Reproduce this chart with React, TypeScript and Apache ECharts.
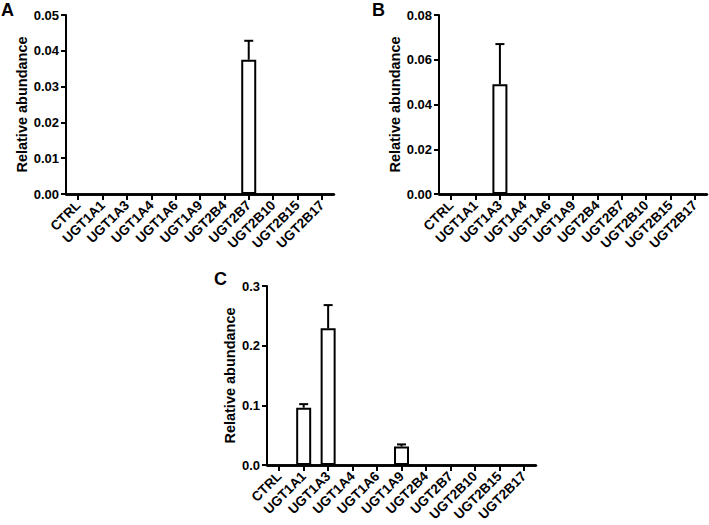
import React, { useEffect, useRef } from "react";
import * as echarts from "echarts";

const categories = ["CTRL", "UGT1A1", "UGT1A3", "UGT1A4", "UGT1A6", "UGT1A9", "UGT2B4", "UGT2B7", "UGT2B10", "UGT2B15", "UGT2B17"];

const meanA = [0, 0, 0, 0, 0, 0, 0, 0.0375, 0, 0, 0];
const errA = [0, 0, 0, 0, 0, 0, 0, 0.0053, 0, 0, 0];
const meanB = [0, 0, 0.049, 0, 0, 0, 0, 0, 0, 0, 0];
const errB = [0, 0, 0.018, 0, 0, 0, 0, 0, 0, 0, 0];
const meanC = [0, 0.096, 0.229, 0, 0, 0.031, 0, 0, 0, 0, 0];
const errC = [0, 0.006, 0.039, 0, 0, 0.0035, 0, 0, 0, 0, 0];

const yMaxA = 0.05, yStepA = 0.01;
const yMaxB = 0.08, yStepB = 0.02;
const yMaxC = 0.3, yStepC = 0.1;

const FONT = "'Liberation Sans', Arial, sans-serif";
const INK = "#000000";

export default function App() {
  const ref = useRef<HTMLDivElement>(null);
  useEffect(() => {
    document.body.style.margin = "0";
    if (!ref.current) return;
    const chart = echarts.init(ref.current, null, { renderer: "svg" });

    const grids = [
      { left: 66, top: 15, width: 268, height: 179 },
      { left: 439, top: 15, width: 268, height: 179 },
      { left: 267, top: 286, width: 269, height: 179 },
    ].map((g) => ({ ...g, containLabel: false }));
    const panels = [
      { mean: meanA, err: errA, max: yMaxA, step: yStepA, dec: 2, gap: 37 },
      { mean: meanB, err: errB, max: yMaxB, step: yStepB, dec: 2, gap: 37 },
      { mean: meanC, err: errC, max: yMaxC, step: yStepC, dec: 1, gap: 30 },
    ];

    const xAxis = panels.map((_, i) => ({
      type: "category",
      gridIndex: i,
      position: "bottom",
      data: categories,
      boundaryGap: true,
      axisLine: { show: true, onZero: false, lineStyle: { color: INK, width: 2.5 } },
      axisTick: { show: true, inside: false, alignWithLabel: true, length: 6, lineStyle: { color: INK, width: 2 } },
      axisLabel: {
        show: true,
        rotate: 45,
        interval: 0,
        margin: 9,
        color: "#000",
        fontFamily: FONT,
        fontWeight: "bold",
        fontSize: 13.5,
      },
    }));

    const yAxis = panels.map((p, i) => ({
      type: "value",
      gridIndex: i,
      min: 0,
      max: p.max,
      interval: p.step,
      name: "Relative abundance",
      nameLocation: "middle",
      nameGap: p.gap,
      nameTextStyle: { color: "#000", fontFamily: FONT, fontWeight: "bold", fontSize: 14.5 },
      axisLine: { show: true, lineStyle: { color: INK, width: 2 } },
      axisTick: { show: true, length: 5, lineStyle: { color: INK, width: 2 } },
      splitLine: { show: false },
      axisLabel: {
        margin: 7,
        color: "#000",
        fontFamily: FONT,
        fontWeight: "bold",
        fontSize: 13,
        formatter: (v: number) => v.toFixed(p.dec),
      },
    }));

    const series: any[] = [];
    panels.forEach((p, i) => {
      series.push({
        type: "bar",
        xAxisIndex: i,
        yAxisIndex: i,
        data: p.mean.map((m) => (m === 0 ? "-" : m)),
        barWidth: 15,
        itemStyle: { color: "#fff", borderColor: INK, borderWidth: 2 },
        markLine: {
          silent: true,
          symbol: ["none", "none"],
          label: { show: false },
          lineStyle: { color: INK, width: 2.5, type: "solid" },
          data: [{ yAxis: 0 }],
        },
      });
      series.push({
        type: "custom",
        xAxisIndex: i,
        yAxisIndex: i,
        data: p.mean.map((m, k) => [k, m, p.err[k]]),
        renderItem: (params: any, api: any) => {
          const idx = api.value(0);
          const m = api.value(1);
          const e = api.value(2);
          if (!e) return null;
          const base = api.coord([idx, m]);
          const top = api.coord([idx, m + e]);
          const half = 4.5;
          const style = { stroke: INK, lineWidth: 2 };
          return {
            type: "group",
            children: [
              { type: "line", shape: { x1: base[0], y1: base[1], x2: top[0], y2: top[1] }, style },
              { type: "line", shape: { x1: top[0] - half, y1: top[1], x2: top[0] + half, y2: top[1] }, style },
            ],
          };
        },
      });
    });

    const letterStyle = { fill: "#000", font: `bold 18px ${FONT}` };
    chart.setOption({
      animation: false,
      backgroundColor: "#fff",
      grid: grids,
      xAxis,
      yAxis,
      series,
      graphic: [
        { type: "text", left: 1, top: 1, style: { ...letterStyle, text: "A" } },
        { type: "text", left: 372, top: 1, style: { ...letterStyle, text: "B" } },
        { type: "text", left: 214, top: 270, style: { ...letterStyle, text: "C" } },
      ],
    });
    return () => chart.dispose();
  }, []);
  return <div ref={ref} style={{ width: 709, height: 525 }} />;
}
